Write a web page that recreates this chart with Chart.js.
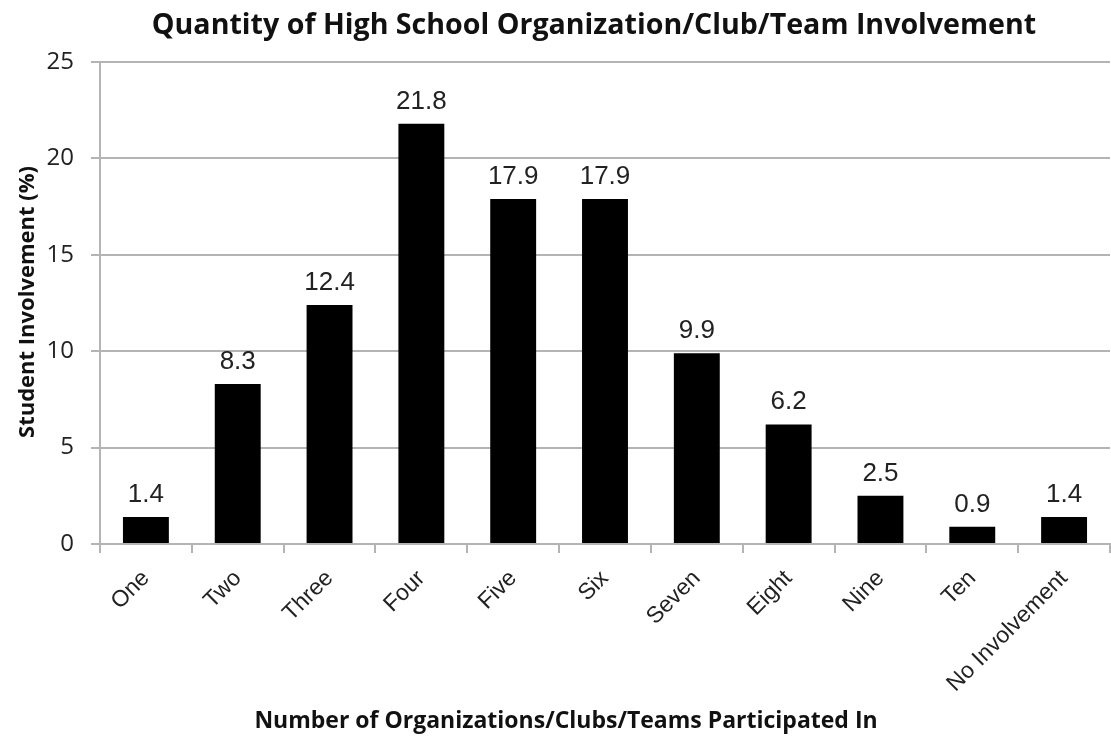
<!DOCTYPE html>
<html>
<head>
<meta charset="utf-8">
<script src="https://cdn.jsdelivr.net/npm/chart.js@4"></script>
<style>
  html, body { margin: 0; padding: 0; background: #fff; }
  #wrap { width: 1111px; height: 736px; }
</style>
</head>
<body>
<div id="wrap"><canvas id="chart" width="1111" height="736"></canvas></div>
<script>
const categories = ['One', 'Two', 'Three', 'Four', 'Five', 'Six', 'Seven', 'Eight', 'Nine', 'Ten', 'No Involvement'];
const involvement = [1.4, 8.3, 12.4, 21.8, 17.9, 17.9, 9.9, 6.2, 2.5, 0.9, 1.4];
const yTicks = [0, 5, 10, 15, 20, 25];

const chartTitle = 'Quantity of High School Organization/Club/Team Involvement';
const xTitle = 'Number of Organizations/Clubs/Teams Participated In';
const yTitle = 'Student Involvement (%)';

const gridGray = '#b4b4b4';

// value over each bar
const barValues = {
  id: 'barValues',
  afterDatasetsDraw(chart) {
    const ctx = chart.ctx;
    const meta = chart.getDatasetMeta(0);
    ctx.save();
    ctx.font = '26px "Liberation Sans", Arial, sans-serif';
    ctx.fillStyle = '#222';
    ctx.textAlign = 'center';
    ctx.textBaseline = 'alphabetic';
    meta.data.forEach((bar, i) => {
      ctx.fillText(involvement[i].toFixed(1), bar.x, bar.y - 15);
    });
    ctx.restore();
  }
};

// main title and both axis titles, placed by hand
const titles = {
  id: 'titles',
  afterDraw(chart) {
    const ctx = chart.ctx;
    ctx.save();
    ctx.fillStyle = '#111';
    ctx.textAlign = 'center';
    ctx.textBaseline = 'alphabetic';

    ctx.font = 'bold 28.6px "Open Sans"';
    ctx.fillText(chartTitle, 594, 34);

    ctx.font = 'bold 23px "Open Sans"';
    ctx.fillText(xTitle, 566, 728);

    ctx.font = 'bold 22px "Open Sans"';
    ctx.translate(34, 302);
    ctx.rotate(-Math.PI / 2);
    ctx.fillText(yTitle, 0, 0);
    ctx.restore();
  }
};

new Chart(document.getElementById('chart'), {
  type: 'bar',
  data: {
    labels: categories,
    datasets: [{
      data: involvement,
      backgroundColor: '#000',
      borderWidth: 0,
      barPercentage: 0.5,
      categoryPercentage: 1
    }]
  },
  options: {
    responsive: false,
    animation: false,
    layout: { padding: { left: 0, right: 1, top: 62, bottom: 0 } },
    plugins: {
      legend: { display: false },
      tooltip: { enabled: false },
      title: { display: false }
    },
    scales: {
      x: {
        offset: true,
        afterFit: s => { s.height = 192; },
        grid: { offset: true, drawOnChartArea: false, tickLength: 9, color: gridGray, lineWidth: 2 },
        border: { color: gridGray, width: 2 },
        ticks: {
          minRotation: 45,
          maxRotation: 45,
          padding: 12,
          color: '#222',
          font: { family: '"Liberation Sans", Arial, sans-serif', size: 23 }
        }
      },
      y: {
        min: 0,
        max: 25,
        afterFit: s => { s.width = 100; },
        afterBuildTicks: s => { s.ticks = yTicks.map(v => ({ value: v })); },
        grid: { color: gridGray, lineWidth: 2, tickLength: 9 },
        border: { color: gridGray, width: 2 },
        ticks: {
          padding: 17,
          color: '#222',
          font: { family: '"Open Sans"', size: 24 }
        }
      }
    }
  },
  plugins: [barValues, titles]
});
</script>
</body>
</html>
